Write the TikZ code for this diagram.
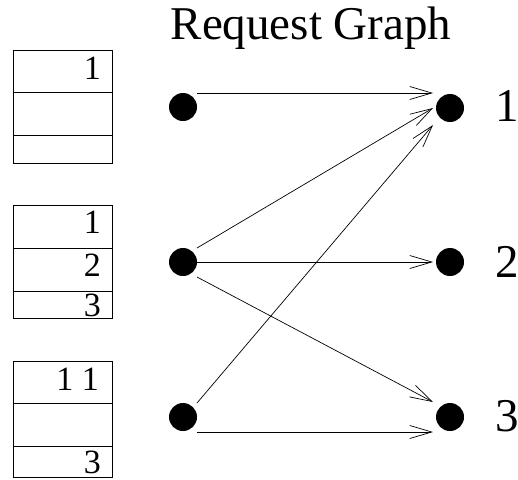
\documentclass[tikz,border=0pt]{standalone}
\usepackage{fontspec}
\setmainfont{Liberation Serif}
\usetikzlibrary{arrows.meta}
\pgfdeclarelayer{edgelayer}
\pgfdeclarelayer{nodelayer}
\pgfsetlayers{edgelayer,nodelayer,main}
\tikzstyle{dot}=[circle,fill=black,draw=none,minimum size=28pt,inner sep=0pt]
\tikzstyle{request}=[-{Straight Barb[length=22pt,width=13pt]},draw=black,line width=0.7pt]
\tikzstyle{slot}=[draw=black,line width=0.8pt]
\tikzstyle{entry}=[anchor=base east,inner sep=0pt,font=\fontsize{34}{36}\selectfont]
\tikzstyle{port}=[anchor=base west,inner sep=0pt,font=\fontsize{47}{50}\selectfont]

\begin{document}
\begin{tikzpicture}[x=1pt,y=-1pt]
	\useasboundingbox (0, 0) rectangle (518, 479);
	\begin{pgfonlayer}{nodelayer}
		\node [style=port, anchor=base] (t) at (311, 39) {Request Graph};
		\node [style=dot] (0) at (183, 107) {};
		\node [style=dot] (1) at (183, 262) {};
		\node [style=dot] (2) at (183, 417) {};
		\node [style=dot] (3) at (450, 108) {};
		\node [style=dot] (4) at (450, 262) {};
		\node [style=dot] (5) at (450, 417) {};
		\node [style=port] (p1) at (495, 121) {1};
		\node [style=port] (p2) at (495, 277) {2};
		\node [style=port] (p3) at (495, 431) {3};
		\node [style=entry] (a1) at (101, 79) {1};
		\node [style=entry] (b1) at (101, 233) {1};
		\node [style=entry] (b2) at (101, 276) {2};
		\node [style=entry] (b3) at (101, 316) {3};
		\node [style=entry] (c1) at (99, 390) {1 1};
		\node [style=entry] (c3) at (101, 473) {3};
	\end{pgfonlayer}
	\begin{pgfonlayer}{edgelayer}
		\draw [style=slot] (13, 50) rectangle (112, 163) (13, 92) -- (112, 92) (13, 135) -- (112, 135);
		\draw [style=slot] (13, 205) rectangle (112, 318) (13, 248) -- (112, 248) (13, 291) -- (112, 291);
		\draw [style=slot] (13, 361) rectangle (112, 477) (13, 403) -- (112, 403) (13, 446) -- (112, 446);
		\draw [style=request] ([shift={(14,-14)}]0.center) -- ([shift={(-17,-15)}]3.center);
		\draw [style=request] ([shift={(14,-14)}]1.center) -- ([shift={(-17,0)}]3.center);
		\draw [style=request] ([shift={(14,0)}]1.center) -- ([shift={(-17,0)}]4.center);
		\draw [style=request] ([shift={(14,15)}]1.center) -- ([shift={(-17,-15)}]5.center);
		\draw [style=request] ([shift={(14,-14)}]2.center) -- ([shift={(-17,17)}]3.center);
		\draw [style=request] ([shift={(14,15)}]2.center) -- ([shift={(-17,15)}]5.center);
	\end{pgfonlayer}
\end{tikzpicture}
\end{document}
